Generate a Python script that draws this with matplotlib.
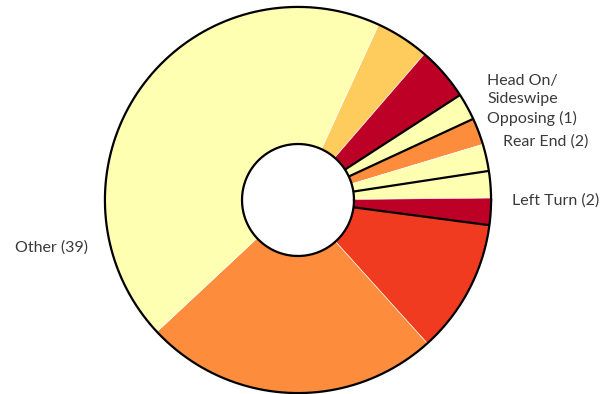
import numpy as np
import matplotlib
matplotlib.use('Agg')
import matplotlib.pyplot as plt

# crash counts per slice, clockwise from the top
counts = [4, 4, 2, 2, 2, 2, 2, 10, 22, 39]
colors = ['#fecc5c', '#bd0026', '#ffffb2', '#fd8d3c', '#ffffb2',
          '#ffffb2', '#bd0026', '#f03b20', '#fd8d3c', '#ffffb2']
# slice boundaries (end of slice i) that get a dark divider
dark_edges = [1, 2, 4, 6]

labels = ['Head On/\nSideswipe\nOpposing (1)', 'Rear End (2)', 'Left Turn (2)', 'Other (39)']
label_pos = [(487, 100), (503, 142), (512, 201), (15, 248)]   # pixels

W, H = 615, 394
fig = plt.figure(figsize=(W / 100, H / 100), dpi=100)
plt.rcParams['font.family'] = ['Lato', 'DejaVu Sans']

cx, cy, r = 298, 200, 195
ax = fig.add_axes([(cx - r) / W, (H - cy - r) / H, 2 * r / W, 2 * r / H])

hole = 0.29
wedges, _ = ax.pie(counts, colors=colors, startangle=65.3, counterclock=False,
                   radius=1.0, wedgeprops=dict(width=1 - hole, edgecolor='white', linewidth=0.4))

for i in dark_edges:
    a = np.deg2rad(wedges[i].theta1)
    ax.plot([hole * np.cos(a), np.cos(a)], [hole * np.sin(a), np.sin(a)],
            color='black', lw=1.6, solid_capstyle='butt')

t = np.linspace(0, 2 * np.pi, 400)
ax.plot(np.cos(t), np.sin(t), color='black', lw=1.6)
ax.plot(hole * np.cos(t), hole * np.sin(t), color='black', lw=1.6)

ax.set_xlim(-1.01, 1.01)
ax.set_ylim(-1.01, 1.01)
ax.set_aspect('equal')
ax.axis('off')

for txt, (px, py) in zip(labels, label_pos):
    fig.text(px / W, 1 - py / H, txt, ha='left', va='center',
             fontsize=11.5, color='#3a3a3a', linespacing=1.35)

fig.savefig('out.png', dpi=100)
